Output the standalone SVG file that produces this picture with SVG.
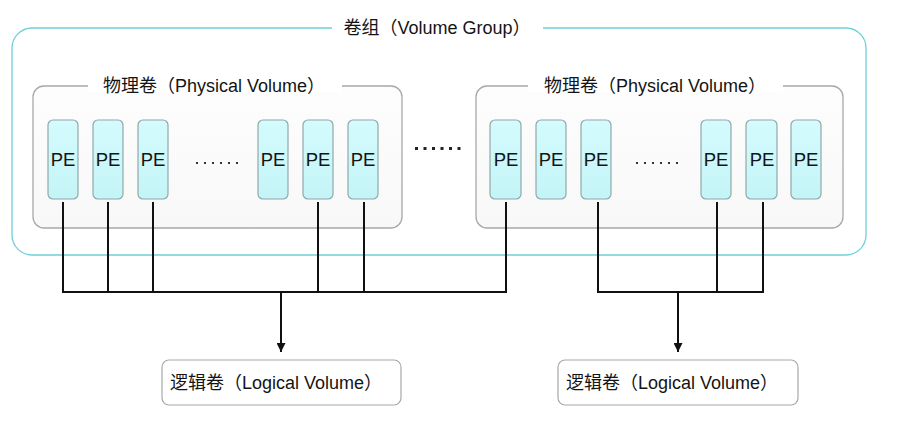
<svg xmlns="http://www.w3.org/2000/svg" width="904" height="432" viewBox="0 0 904 432">
<defs>
<linearGradient id="peg" x1="0" y1="0" x2="0" y2="1"><stop offset="0" stop-color="#d4fbfd"/><stop offset="1" stop-color="#c4f4f7"/></linearGradient>
<linearGradient id="pvg" x1="0" y1="0" x2="0" y2="1"><stop offset="0" stop-color="#fdfdfd"/><stop offset="1" stop-color="#f8f8f8"/></linearGradient>
<marker id="arr" viewBox="0 0 10 10" refX="10" refY="5" markerWidth="9" markerHeight="9" markerUnits="userSpaceOnUse" orient="auto"><path d="M0,0 L10,5 L0,10 z" fill="#111"/></marker>
<style>
text{font-family:"Liberation Sans","Noto Sans CJK SC",Arial,sans-serif;fill:#141414;font-size:18px}
.vg{fill:#fff;stroke:#6fcfdc;stroke-width:1.3}
.pv{fill:url(#pvg);stroke:#a8a8a8;stroke-width:1.3}
.pe rect{fill:url(#peg);stroke:#8fa8a8;stroke-width:1.2}
.pe text{text-anchor:middle;font-size:18.5px}
.lv rect{fill:#fff;stroke:#a8a8a8;stroke-width:1.2}
.conn{stroke:#111;stroke-width:2;fill:none}
.dots{fill:#333}
.mask{fill:#fff;stroke:none}
</style>
</defs>
<rect width="904" height="432" fill="#fff"/>
<g id="volume-group">
<rect class="vg" x="12" y="28" width="854" height="227" rx="20"/>
<rect class="mask" x="332" y="20" width="211" height="14"/>
<text x="437" y="34" text-anchor="middle">卷组（Volume Group）</text>
</g>
<g id="pv-left">
<rect class="pv" x="33" y="86" width="369" height="142" rx="11"/>
<rect fill="#fff" x="88" y="78" width="254" height="14"/>
<text x="214" y="92" text-anchor="middle">物理卷（Physical Volume）</text>
</g>
<g id="pv-right">
<rect class="pv" x="476" y="86" width="367" height="142" rx="11"/>
<rect fill="#fff" x="528" y="78" width="255" height="14"/>
<text x="655" y="92" text-anchor="middle">物理卷（Physical Volume）</text>
</g>
<g id="pe-l1" class="pe"><rect x="48" y="120" width="30" height="79" rx="5"/><text x="63" y="166">PE</text></g>
<g id="pe-l2" class="pe"><rect x="93" y="120" width="30" height="79" rx="5"/><text x="108" y="166">PE</text></g>
<g id="pe-l3" class="pe"><rect x="138" y="120" width="30" height="79" rx="5"/><text x="153" y="166">PE</text></g>
<g id="pe-l4" class="pe"><rect x="258" y="120" width="30" height="79" rx="5"/><text x="273" y="166">PE</text></g>
<g id="pe-l5" class="pe"><rect x="303" y="120" width="30" height="79" rx="5"/><text x="318" y="166">PE</text></g>
<g id="pe-l6" class="pe"><rect x="348" y="120" width="30" height="79" rx="5"/><text x="363" y="166">PE</text></g>
<g id="pe-r1" class="pe"><rect x="490" y="120" width="31" height="79" rx="5"/><text x="506" y="166">PE</text></g>
<g id="pe-r2" class="pe"><rect x="536" y="120" width="30" height="79" rx="5"/><text x="551" y="166">PE</text></g>
<g id="pe-r3" class="pe"><rect x="581" y="120" width="30" height="79" rx="5"/><text x="596" y="166">PE</text></g>
<g id="pe-r4" class="pe"><rect x="701" y="120" width="30" height="79" rx="5"/><text x="716" y="166">PE</text></g>
<g id="pe-r5" class="pe"><rect x="746" y="120" width="31" height="79" rx="5"/><text x="762" y="166">PE</text></g>
<g id="pe-r6" class="pe"><rect x="791" y="120" width="30" height="79" rx="5"/><text x="806" y="166">PE</text></g>
<g id="ellipses">
<g class="dots">
<rect x="196" y="162" width="2" height="2"/><rect x="204" y="162" width="2" height="2"/><rect x="212" y="162" width="2" height="2"/><rect x="220" y="162" width="2" height="2"/><rect x="228" y="162" width="2" height="2"/><rect x="236" y="162" width="2" height="2"/>
<rect x="636" y="162" width="2" height="2"/><rect x="644" y="162" width="2" height="2"/><rect x="652" y="162" width="2" height="2"/><rect x="660" y="162" width="2" height="2"/><rect x="668" y="162" width="2" height="2"/><rect x="676" y="162" width="2" height="2"/>
</g>
<g fill="#222">
<rect x="415" y="147" width="3" height="3"/><rect x="423.5" y="147" width="3" height="3"/><rect x="432" y="147" width="3" height="3"/><rect x="440.5" y="147" width="3" height="3"/><rect x="449" y="147" width="3" height="3"/><rect x="457.5" y="147" width="3" height="3"/>
</g>
</g>
<g id="connectors" class="conn">
<path d="M63,202 V292 M108,202 V292 M153,202 V292 M318,202 V292 M364,202 V292 M506,202 V292 M62,292 H507"/>
<path d="M598,202 V292 M717,202 V292 M763,202 V292 M597,292 H764"/>
<path d="M281,292 V352" marker-end="url(#arr)"/>
<path d="M678,292 V352" marker-end="url(#arr)"/>
</g>
<g id="lv-left" class="lv">
<rect x="162" y="360" width="239" height="45" rx="7"/>
<text x="170" y="389">逻辑卷（Logical Volume）</text>
</g>
<g id="lv-right" class="lv">
<rect x="558" y="360" width="240" height="45" rx="7"/>
<text x="566" y="389">逻辑卷（Logical Volume）</text>
</g>
</svg>
